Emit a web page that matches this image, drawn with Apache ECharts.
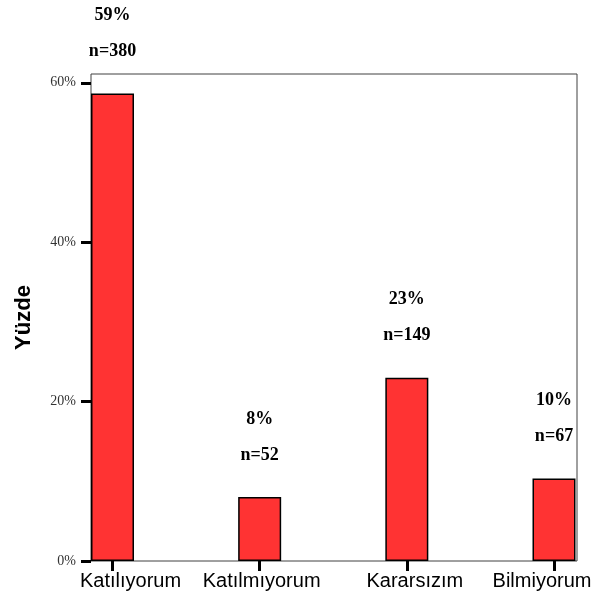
<!DOCTYPE html>
<html>
<head>
<meta charset="utf-8">
<script src="https://cdn.jsdelivr.net/npm/echarts@6/dist/echarts.min.js"></script>
<style>
  html, body { margin: 0; padding: 0; background: #fff; }
  #chart { width: 596px; height: 603px; }
</style>
</head>
<body>
<div id="chart"></div>
<script>
// Response categories and respondent counts
const categories = ['Katılıyorum', 'Katılmıyorum', 'Kararsızım', 'Bilmiyorum'];
const counts = [380, 52, 149, 67];
const yTicks = [0, 20, 40, 60];
const yMax = 61.1;

const total = counts.reduce((a, b) => a + b, 0);
const percents = counts.map(c => c / total * 100);

// horizontal nudge (px) of each category label off its tick
const labelNudge = [18, 2, 8, -12];

const chart = echarts.init(document.getElementById('chart'));

chart.setOption({
  animation: false,
  backgroundColor: '#fff',
  grid: [
    // outer frame with the percentage axis
    { left: 91, right: 19, top: 74, bottom: 42, outerBoundsMode: 'none', containLabel: false,
      show: true, borderColor: '#404040', borderWidth: 1, backgroundColor: 'transparent' },
    // bars, spread between the first and last category tick
    { left: 112.5, right: 42, top: 74, bottom: 42, outerBoundsMode: 'none', containLabel: false }
  ],
  xAxis: [
    { gridIndex: 0, type: 'value', min: 0, max: 1, show: false },
    {
      gridIndex: 1,
      type: 'category',
      data: categories.map((c, i) => ({
        value: c,
        textStyle: {
          padding: labelNudge[i] >= 0 ? [0, 0, 0, 2 * labelNudge[i]] : [0, -2 * labelNudge[i], 0, 0]
        }
      })),
      boundaryGap: false,
      axisLine: { show: false },
      axisTick: { show: true, length: 10, interval: 0, lineStyle: { color: '#000', width: 3 } },
      axisLabel: {
        interval: 0,
        hideOverlap: false,
        margin: 10,
        fontFamily: 'Liberation Sans, Arial, sans-serif',
        fontSize: 20,
        color: '#000'
      },
      splitLine: { show: false }
    }
  ],
  yAxis: [
    {
      gridIndex: 0,
      type: 'value',
      min: 0,
      max: yMax,
      name: 'Yüzde',
      nameLocation: 'middle',
      nameGap: 56,
      nameRotate: 90,
      nameTextStyle: {
        fontFamily: 'Liberation Sans, Arial, sans-serif',
        fontWeight: 'bold',
        fontSize: 22,
        color: '#000'
      },
      axisLine: { show: false },
      axisTick: {
        show: true,
        length: 10,
        customValues: yTicks,
        lineStyle: { color: '#000', width: 3 }
      },
      axisLabel: {
        customValues: yTicks,
        margin: 15,
        formatter: v => v + '%',
        fontFamily: 'Liberation Serif, Times New Roman, serif',
        fontSize: 14,
        color: '#333'
      },
      splitLine: { show: false }
    },
    { gridIndex: 1, type: 'value', min: 0, max: yMax, show: false }
  ],
  series: [
    {
      type: 'bar',
      xAxisIndex: 1,
      yAxisIndex: 1,
      barWidth: 43,
      data: percents,
      itemStyle: { color: '#ff3333', borderColor: '#000', borderWidth: 1.5 },
      label: {
        show: true,
        position: 'top',
        distance: 24,
        formatter: p => '{p|' + Math.round(p.value) + '%}\n{n|n=' + counts[p.dataIndex] + '}',
        rich: {
          p: { fontFamily: 'Liberation Serif, Times New Roman, serif', fontWeight: 'bold', fontSize: 18, lineHeight: 36, color: '#000' },
          n: { fontFamily: 'Liberation Serif, Times New Roman, serif', fontWeight: 'bold', fontSize: 18, lineHeight: 36, color: '#000' }
        }
      }
    }
  ]
});
</script>
</body>
</html>
